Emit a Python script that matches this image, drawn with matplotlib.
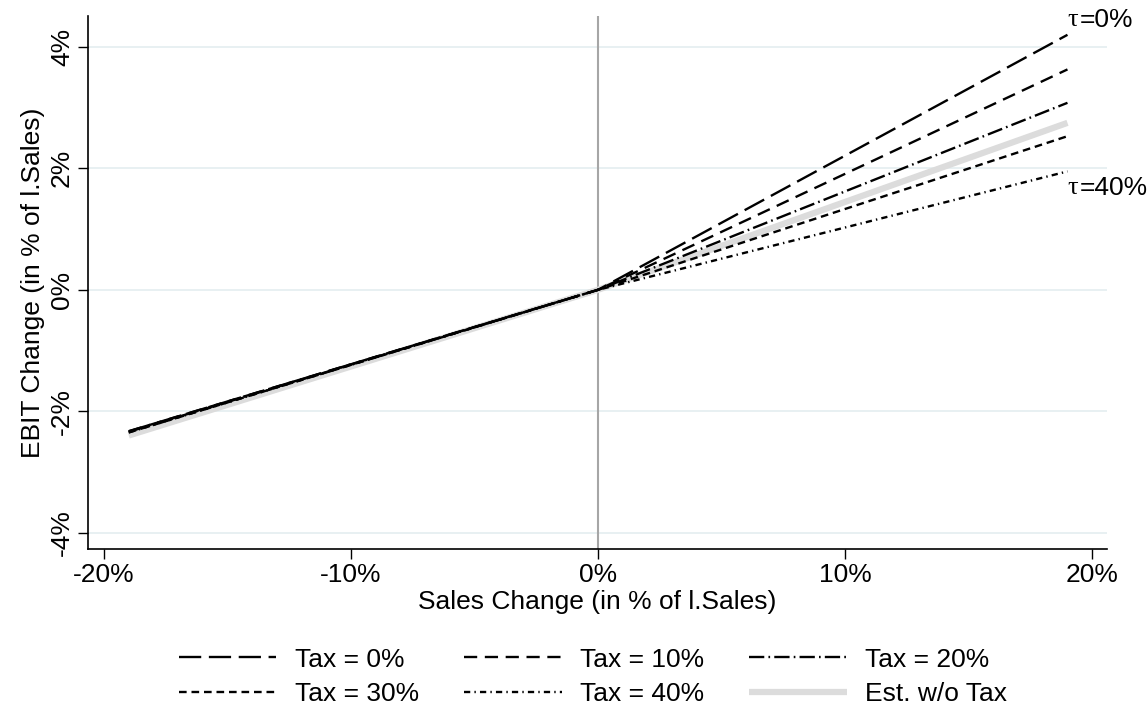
import matplotlib.pyplot as plt
import numpy as np

plt.rcParams['font.family'] = ['Liberation Sans', 'DejaVu Sans']
plt.rcParams['lines.scale_dashes'] = False

# sales change (in %) and EBIT change (in %) per tax scenario
sales = [-19, 0, 19]
tax0 = [-2.33, 0, 4.20]
tax10 = [-2.33, 0, 3.63]
tax20 = [-2.34, 0, 3.08]
tax30 = [-2.35, 0, 2.53]
tax40 = [-2.35, 0, 1.95]
est = [-2.40, 0, 2.75]

xticks = [-20, -10, 0, 10, 20]
yticks = [-4, -2, 0, 2, 4]

fs = 19
fig = plt.figure(figsize=(11.48, 7.13), dpi=100)
ax = fig.add_axes([88/1148, 1-549/713, (1107-88)/1148, (549-16)/713])

for y in yticks:
    ax.axhline(y, color='#e6eff1', lw=1.3, zorder=0)
ax.axvline(0, color='#a6a6a6', lw=1.5, zorder=1)

lw = 1.7
h_est, = ax.plot(sales, est, color='#dcdcdc', lw=4.5, solid_capstyle='butt', label='Est. w/o Tax')
h0, = ax.plot(sales, tax0, color='black', lw=lw, dashes=(16, 5.5), label='Tax = 0%')
h10, = ax.plot(sales, tax10, color='black', lw=lw, dashes=(9.5, 5.5), label='Tax = 10%')
h20, = ax.plot(sales, tax20, color='black', lw=lw, dashes=(11, 3, 1.2, 3), label='Tax = 20%')
h30, = ax.plot(sales, tax30, color='black', lw=lw, dashes=(5.5, 3.5), label='Tax = 30%')
h40, = ax.plot(sales, tax40, color='black', lw=lw, dashes=(4.5, 3, 1, 3), label='Tax = 40%')

# tau labels: serif tau followed by sans text
for yy, txt in [(4.45, '=0%'), (1.68, '=40%')]:
    ax.text(19.0, yy, 'τ', fontsize=fs, va='center', ha='left', family='Liberation Serif')
    ax.annotate(txt, xy=(19.0, yy), xytext=(8.5, 0), textcoords='offset points',
                fontsize=fs, va='center', ha='left')

ax.set_xlim(-20.65, 20.6)
ax.set_ylim(-4.27, 4.51)
ax.set_xticks(xticks)
ax.set_xticklabels([f'{t}%' for t in xticks], fontsize=fs)
ax.set_yticks(yticks)
ax.set_yticklabels([f'{t}%' for t in yticks], fontsize=fs, rotation=90, va='center')
ax.tick_params(length=7, width=1, color='black', pad=3)
for s in ['top', 'right']:
    ax.spines[s].set_visible(False)
ax.spines['left'].set_linewidth(1.2)
ax.spines['bottom'].set_linewidth(1.2)

ax.set_xlabel('Sales Change (in % of l.Sales)', fontsize=fs, labelpad=2)
ax.set_ylabel('EBIT Change (in % of l.Sales)', fontsize=fs, labelpad=4)

handles = [h0, h30, h10, h40, h20, h_est]
fig.legend(handles, [h.get_label() for h in handles], ncol=3, loc='center',
           bbox_to_anchor=(593/1148, 1-677/713), frameon=False, fontsize=fs,
           handlelength=3.7, handletextpad=0.7, columnspacing=1.7, labelspacing=0.4)

fig.savefig('out.png', dpi=100)
